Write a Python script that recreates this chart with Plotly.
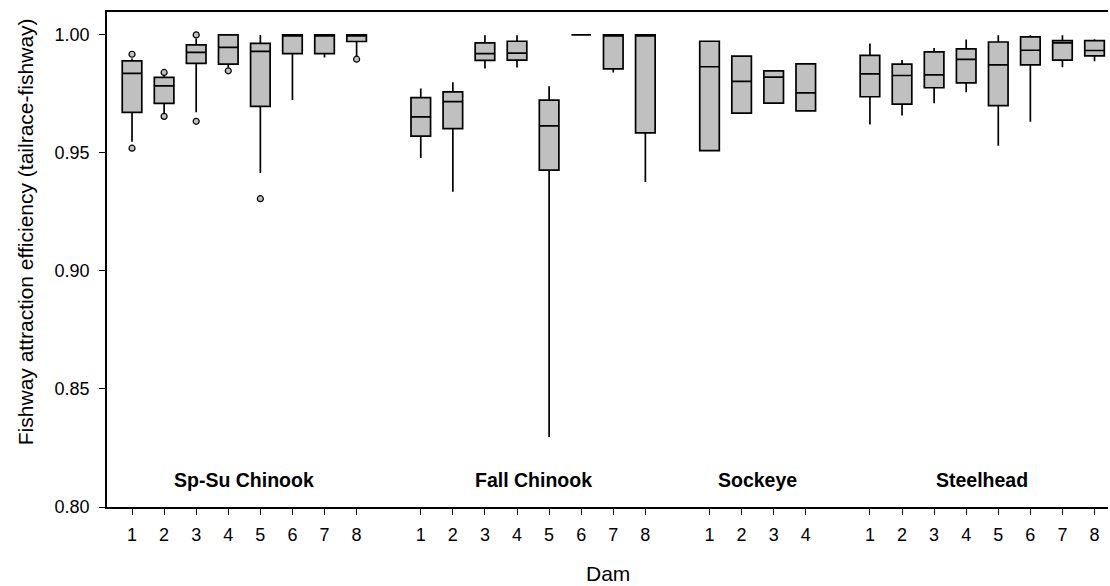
import plotly.graph_objects as go

# ---------------- data ----------------
group_names = ["Sp-Su Chinook", "Fall Chinook", "Sockeye", "Steelhead"]
group_sizes = [8, 8, 4, 8]

# order: Sp-Su 1-8, Fall 1-8, Sockeye 1-4, Steelhead 1-8
dam_labels = [1, 2, 3, 4, 5, 6, 7, 8,
              1, 2, 3, 4, 5, 6, 7, 8,
              1, 2, 3, 4,
              1, 2, 3, 4, 5, 6, 7, 8]

upper_whisker = [0.9900, 0.9830, 0.9985, 1.0000, 1.0000, 1.0000, 1.0000, 1.0000,
                 0.9773, 0.9799, 0.9999, 0.9999, 0.9782, 1.0000, 1.0000, 1.0000,
                 0.9973, 0.9910, 0.9848, 0.9877,
                 0.9964, 0.9894, 0.9945, 0.9981, 0.9999, 0.9999, 0.9999, 0.9982]
q3 = [0.9890, 0.9820, 0.9958, 1.0000, 0.9964, 1.0000, 1.0000, 1.0000,
      0.9734, 0.9759, 0.9966, 0.9973, 0.9724, 1.0000, 1.0000, 1.0000,
      0.9973, 0.9910, 0.9848, 0.9877,
      0.9913, 0.9876, 0.9928, 0.9941, 0.9970, 0.9992, 0.9976, 0.9976]
median = [0.9837, 0.9784, 0.9926, 0.9947, 0.9930, 1.0000, 1.0000, 1.0000,
          0.9653, 0.9717, 0.9921, 0.9923, 0.9615, 1.0000, 1.0000, 1.0000,
          0.9865, 0.9803, 0.9821, 0.9754,
          0.9835, 0.9828, 0.9831, 0.9896, 0.9873, 0.9935, 0.9966, 0.9934]
q1 = [0.9672, 0.9710, 0.9879, 0.9876, 0.9697, 0.9921, 0.9921, 0.9972,
      0.9571, 0.9603, 0.9892, 0.9893, 0.9427, 1.0000, 0.9856, 0.9585,
      0.9510, 0.9669, 0.9711, 0.9678,
      0.9738, 0.9707, 0.9776, 0.9797, 0.9700, 0.9873, 0.9893, 0.9911]
lower_whisker = [0.9547, 0.9665, 0.9672, 0.9862, 0.9415, 0.9724, 0.9904, 0.9911,
                 0.9478, 0.9336, 0.9858, 0.9862, 0.8297, 1.0000, 0.9841, 0.9377,
                 0.9510, 0.9669, 0.9711, 0.9678,
                 0.9620, 0.9659, 0.9710, 0.9757, 0.9530, 0.9632, 0.9863, 0.9888]

# outliers (Sp-Su Chinook only): dam number and value
outlier_dam = [1, 1, 2, 2, 3, 3, 4, 5, 8]
outlier_val = [0.9918, 0.9520, 0.9841, 0.9655, 1.0000, 0.9634, 0.9848, 0.9306, 0.9897]

y_ticks = [0.80, 0.85, 0.90, 0.95, 1.00]

x_title = "Dam"
y_title = "Fishway attraction efficiency (tailrace-fishway)"

# ---------------- positions from group layout ----------------
positions = []
group_centers = []
offset = 0
for size in group_sizes:
    positions += [offset + d for d in range(1, size + 1)]
    group_centers.append(offset + (size + 1) / 2)
    offset += size + 1

outlier_x = [positions[d - 1] for d in outlier_dam]

fig = go.Figure()
fig.add_trace(go.Box(
    x=positions,
    q1=q1, median=median, q3=q3,
    lowerfence=lower_whisker, upperfence=upper_whisker,
    width=0.61,
    whiskerwidth=0,
    fillcolor="#c0c0c0",
    line=dict(color="#000000", width=1.7),
    boxpoints=False,
    showlegend=False,
    hoverinfo="skip",
))
fig.add_trace(go.Scatter(
    x=outlier_x, y=outlier_val, mode="markers",
    marker=dict(symbol="circle", size=6, color="#c0c0c0",
                line=dict(color="#000000", width=1.2)),
    showlegend=False, hoverinfo="skip",
))

for name, cx in zip(group_names, group_centers):
    fig.add_annotation(x=cx, y=0.8114, xref="x", yref="y", text="<b>%s</b>" % name,
                       showarrow=False, font=dict(family="Liberation Sans", size=19.5, color="#000"))

# axis titles as annotations for precise placement
fig.add_annotation(x=0.5, y=-0.134, xref="paper", yref="paper", text=x_title,
                   showarrow=False, yanchor="middle", xanchor="center",
                   font=dict(family="Liberation Sans", size=21, color="#000"))
fig.add_annotation(x=-0.082, y=0.557, xref="paper", yref="paper", text=y_title,
                   showarrow=False, textangle=-90, yanchor="middle", xanchor="center",
                   font=dict(family="Liberation Sans", size=21, color="#000"))

fig.update_layout(
    width=1110, height=586,
    margin=dict(l=107, r=2, t=12, b=79),
    paper_bgcolor="white", plot_bgcolor="white",
    font=dict(family="Liberation Sans", color="#000"),
)
fig.update_xaxes(
    range=[0.22, 31.42],
    tickvals=positions, ticktext=[str(d) for d in dam_labels],
    ticks="outside", ticklen=6, tickwidth=1.2, tickcolor="#000",
    showline=True, linecolor="#000", linewidth=1.5, mirror=True,
    showgrid=False, zeroline=False,
    tickfont=dict(size=18), ticklabelstandoff=5,
)
fig.update_yaxes(
    range=[0.80, 1.0097],
    tickvals=y_ticks, tickformat=".2f",
    ticks="outside", ticklen=6, tickwidth=1.2, tickcolor="#000",
    showline=True, linecolor="#000", linewidth=1.5,
    showgrid=False, zeroline=False,
    tickfont=dict(size=18), ticklabelstandoff=6,
)

fig.write_html("out.html")
